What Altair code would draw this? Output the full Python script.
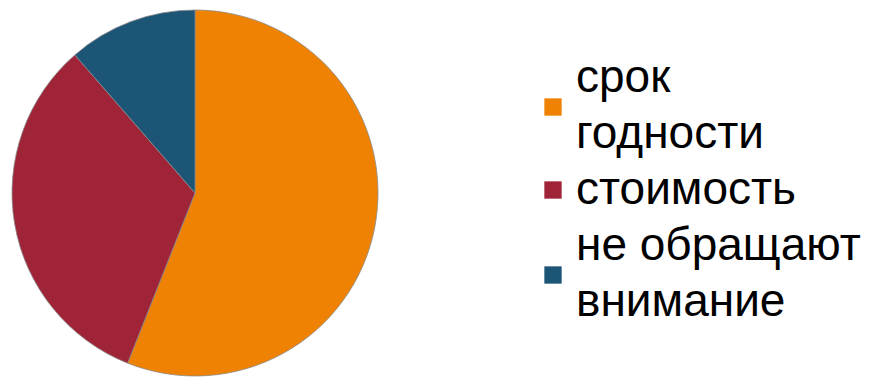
import altair as alt
import pandas as pd

categories = ["срок\nгодности", "стоимость", "не обращают\nвнимание"]
values = [56.0, 32.6, 11.4]
colors = ["#EF8203", "#A02437", "#1D5577"]
order = [0, 1, 2]

df = pd.DataFrame({"category": categories, "value": values, "order": order})

chart = (
    alt.Chart(df)
    .mark_arc(radius=183, stroke="#8a8a8a", strokeWidth=0.8)
    .encode(
        theta=alt.Theta("value:Q", stack=True),
        order=alt.Order("order:Q"),
        color=alt.Color(
            "category:N",
            sort=categories,
            scale=alt.Scale(domain=categories, range=colors),
            legend=alt.Legend(
                title=None,
                orient="none",
                legendX=522,
                legendY=76,
                symbolType="square",
                symbolSize=300,
                symbolStrokeWidth=0,
                symbolOpacity=1,
                labelFont="Liberation Sans",
                labelFontSize=46,
                labelColor="#000000",
                labelLimit=400,
                labelOffset=0,
                rowPadding=10,
                labelExpr="split(datum.label, '\\n')",
                labelBaseline=alt.ExprRef(
                    expr="indexof(datum.label, '\\n') >= 0 ? 'line-bottom' : 'middle'"
                ),
            ),
        ),
    )
    .properties(
        width=374,
        height=370,
        padding=0,
    )
    .configure_view(stroke=None)
    .configure(style={"guide-label": {"lineHeight": 56}})
)

chart.save("out.html", embed_options={"renderer": "svg", "actions": False})
